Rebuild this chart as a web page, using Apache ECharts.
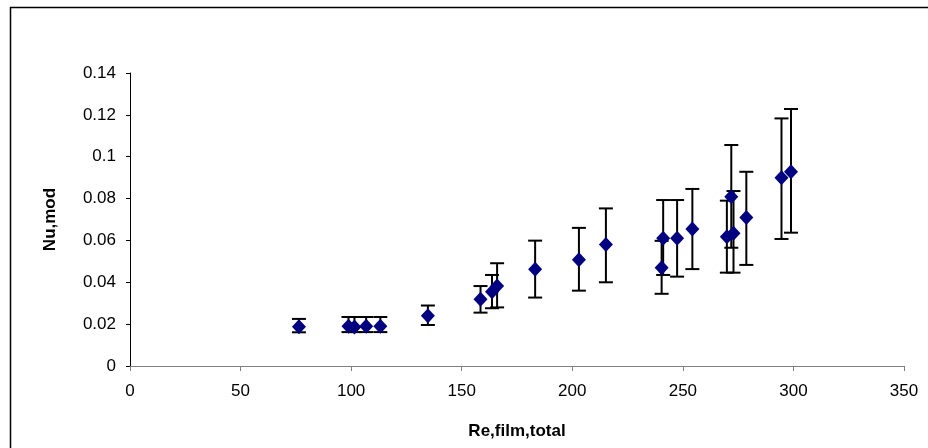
<!DOCTYPE html>
<html>
<head>
<meta charset="utf-8">
<script src="https://cdn.jsdelivr.net/npm/echarts@6/dist/echarts.min.js"></script>
<style>
html,body{margin:0;padding:0;background:#fff;}
#chart{width:928px;height:448px;}
</style>
</head>
<body>
<div id="chart"></div>
<script>
// Data
var reFilmTotal = [76.4, 98.8, 101.5, 106.8, 113.2, 134.7, 158.5, 163.7, 166.0, 183.2, 203.0, 215.2, 240.4, 241.1, 247.4, 254.3, 269.9, 271.9, 272.9, 278.7, 294.6, 298.9];
var nuMod      = [0.0188, 0.0190, 0.0186, 0.0190, 0.0190, 0.0240, 0.0319, 0.0355, 0.0382, 0.0462, 0.0508, 0.0580, 0.0470, 0.0610, 0.0610, 0.0655, 0.0618, 0.0809, 0.0634, 0.0709, 0.0900, 0.0928];
var nuLow      = [0.0161, 0.0162, 0.0162, 0.0162, 0.0162, 0.0196, 0.0255, 0.0276, 0.0280, 0.0327, 0.0360, 0.0400, 0.0345, 0.0435, 0.0427, 0.0463, 0.0446, 0.0565, 0.0446, 0.0483, 0.0607, 0.0637];
var nuHigh     = [0.0225, 0.0234, 0.0234, 0.0234, 0.0234, 0.0289, 0.0382, 0.0435, 0.0491, 0.0599, 0.0660, 0.0753, 0.0598, 0.0793, 0.0793, 0.0846, 0.0790, 0.1056, 0.0836, 0.0928, 0.1183, 0.1228];
var xTicks = {min: 0, max: 350, interval: 50};
var yTicks = {min: 0, max: 0.14, interval: 0.02};
var xTitle = 'Re,film,total';
var yTitle = 'Nu,mod';

var points = reFilmTotal.map(function (x, i) { return [x, nuMod[i]]; });
var bars = reFilmTotal.map(function (x, i) { return [x, nuLow[i], nuHigh[i]]; });

var chart = echarts.init(document.getElementById('chart'), null, {renderer: 'canvas'});
var font = '"Liberation Sans", Arial, sans-serif';

chart.setOption({
  animation: false,
  backgroundColor: '#fff',
  graphic: [{
    type: 'rect',
    shape: {x: 10.5, y: 7.5, width: 940, height: 460},
    style: {fill: 'none', stroke: '#000', lineWidth: 1.5},
    silent: true
  }],
  grid: {left: 130, right: 24, top: 73, bottom: 82, containLabel: false},
  xAxis: {
    type: 'value',
    min: xTicks.min, max: xTicks.max, interval: xTicks.interval,
    name: xTitle, nameLocation: 'middle', nameGap: 57,
    nameTextStyle: {fontFamily: font, fontSize: 17, fontWeight: 'bold', color: '#000'},
    axisLine: {show: true, onZero: false, lineStyle: {color: '#808080', width: 1}},
    axisTick: {show: true, inside: false, length: 5, lineStyle: {color: '#808080'}},
    axisLabel: {fontFamily: font, fontSize: 17, color: '#000', margin: 17},
    splitLine: {show: false}
  },
  yAxis: {
    type: 'value',
    min: yTicks.min, max: yTicks.max, interval: yTicks.interval,
    name: yTitle, nameLocation: 'middle', nameGap: 71, nameRotate: 90,
    nameTextStyle: {fontFamily: font, fontSize: 17, fontWeight: 'bold', color: '#000'},
    axisLine: {show: true, onZero: false, lineStyle: {color: '#000', width: 1}},
    axisTick: {show: true, inside: false, length: 4, lineStyle: {color: '#000'}},
    axisLabel: {fontFamily: font, fontSize: 17, color: '#000', margin: 14,
      formatter: function (v) { return String(Math.round(v * 100) / 100); }},
    splitLine: {show: false}
  },
  series: [{
    type: 'custom',
    z: 1,
    data: bars,
    encode: {x: 0, y: [1, 2]},
    renderItem: function (params, api) {
      var x = api.value(0);
      var lo = api.coord([x, api.value(1)]);
      var hi = api.coord([x, api.value(2)]);
      var hw = 7;
      var st = {stroke: '#000', lineWidth: 2};
      return {
        type: 'group',
        children: [
          {type: 'line', shape: {x1: lo[0], y1: lo[1], x2: hi[0], y2: hi[1]}, style: st},
          {type: 'line', shape: {x1: lo[0] - hw, y1: lo[1], x2: lo[0] + hw, y2: lo[1]}, style: st},
          {type: 'line', shape: {x1: hi[0] - hw, y1: hi[1], x2: hi[0] + hw, y2: hi[1]}, style: st}
        ]
      };
    }
  }, {
    type: 'scatter',
    z: 2,
    data: points,
    symbol: 'diamond',
    symbolSize: [14, 15],
    itemStyle: {color: '#000080', opacity: 1}
  }]
});
</script>
</body>
</html>
